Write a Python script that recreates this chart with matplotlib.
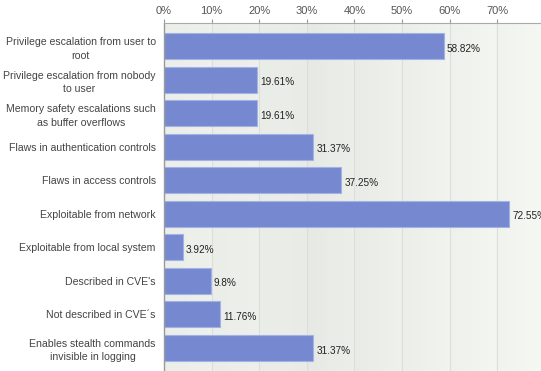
import matplotlib
matplotlib.use("Agg")
import matplotlib.pyplot as plt
import numpy as np

categories = [
    "Privilege escalation from user to\nroot",
    "Privilege escalation from nobody\nto user",
    "Memory safety escalations such\nas buffer overflows",
    "Flaws in authentication controls",
    "Flaws in access controls",
    "Exploitable from network",
    "Exploitable from local system",
    "Described in CVE's",
    "Not described in CVE\u00b4s",
    "Enables stealth commands\ninvisible in logging",
]
values = [58.82, 19.61, 19.61, 31.37, 37.25, 72.55, 3.92, 9.8, 11.76, 31.37]
value_labels = ["58.82%", "19.61%", "19.61%", "31.37%", "37.25%", "72.55%", "3.92%", "9.8%", "11.76%", "31.37%"]
ticks = [0, 10, 20, 30, 40, 50, 60, 70]
tick_labels = ["0%", "10%", "20%", "30%", "40%", "50%", "60%", "70%"]

plt.rcParams['font.family'] = ['Liberation Sans', 'DejaVu Sans']

fig = plt.figure(figsize=(5.41, 3.71), dpi=100)
ax = fig.add_axes([164/541, 0, 1 - 164/541, (371-23)/371])
xmax = 79.2
ax.set_xlim(0, xmax)
n = len(categories)
ax.set_ylim(n - 1 + 0.69, -0.69)

# background: soft greenish gradient, darkest around 20-40%, lighter to the right
xs = np.linspace(0, xmax, 400)
base = np.interp(xs, [0, 20, 30, 40, 55, 70, xmax], [0.935, 0.93, 0.915, 0.925, 0.94, 0.955, 0.962])
band_pos = (xs % 10) / 10.0
shade = base + 0.012 * band_pos
rgb = np.stack([shade - 0.012, shade, shade - 0.022], axis=-1)
rgb = np.clip(rgb, 0, 1)[None, :, :]
ax.imshow(rgb, extent=[0, xmax, n - 1 + 0.69, -0.69], aspect='auto', zorder=0, interpolation='bilinear')
ax.set_xlim(0, xmax)
ax.set_ylim(n - 1 + 0.69, -0.69)
for t in ticks[1:]:
    ax.axvline(t, color='#dcdedb', lw=0.8, zorder=1)

y = np.arange(n)
ax.barh(y, values, height=0.78, color='#7689d0', edgecolor='#a3b2e6', lw=0.8, zorder=2)
for yi, v, lab in zip(y, values, value_labels):
    ax.text(v + 0.6, yi + 0.08, lab, va='center', ha='left', fontsize=7.2, color='#222222', zorder=3)

ax.xaxis.tick_top()
ax.set_xticks(ticks)
ax.set_xticklabels(tick_labels, fontsize=8, color='#555555')
ax.tick_params(axis='x', length=3, color='#999999', pad=2)
ax.set_yticks(y)
ax.set_yticklabels(categories, fontsize=7.6, color='#444444', multialignment='center', linespacing=1.45)
ax.tick_params(axis='y', length=0, pad=6)

for s in ['right', 'bottom']:
    ax.spines[s].set_visible(False)
ax.spines['left'].set_color('#999999')
ax.spines['top'].set_color('#aaaaaa')
ax.spines['left'].set_linewidth(1.0)
ax.spines['top'].set_linewidth(0.8)

fig.savefig('out.png', dpi=100)
